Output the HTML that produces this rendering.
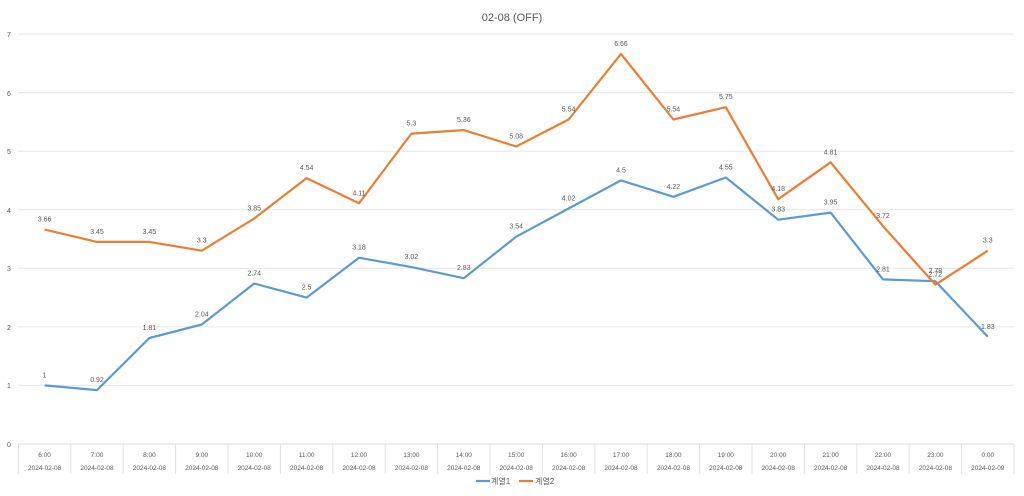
<!DOCTYPE html><html><head><meta charset="utf-8"><style>body{margin:0;background:#fff}svg{display:block}text{font-family:"Liberation Sans","Noto Sans CJK KR",sans-serif;fill:#595959}</style></head><body>
<svg width="1024" height="496" viewBox="0 0 1024 496">
<text x="512" y="21" font-size="11" text-anchor="middle">02-08 (OFF)</text>
<g stroke="#e6e6e6" stroke-width="1">
<line x1="18" y1="385.4" x2="1014" y2="385.4"/><line x1="18" y1="326.9" x2="1014" y2="326.9"/><line x1="18" y1="268.3" x2="1014" y2="268.3"/><line x1="18" y1="209.7" x2="1014" y2="209.7"/><line x1="18" y1="151.2" x2="1014" y2="151.2"/><line x1="18" y1="92.6" x2="1014" y2="92.6"/><line x1="18" y1="34" x2="1014" y2="34"/>
<line x1="18" y1="444" x2="1014" y2="444" stroke="#d9d9d9"/>
</g>
<g stroke="#e0e0e0" id="sep"></g>
<g font-size="7" text-anchor="middle">
<text x="9" y="447">0</text><text x="9" y="388">1</text><text x="9" y="330">2</text><text x="9" y="271">3</text><text x="9" y="213">4</text><text x="9" y="154">5</text><text x="9" y="96">6</text><text x="9" y="37">7</text>
</g>
<g id="cats" font-size="6.5" text-anchor="middle"></g>
<polyline fill="none" stroke="#5b9bd5" stroke-width="2.2" stroke-linejoin="round" points="44.6,385.4 97,390.1 149.4,338 201.8,324.5 254.2,283.5 306.6,297.6 359,257.7 411.4,267.1 463.8,278.2 516.2,236.7 568.6,208.5 621,180.4 673.4,196.8 725.8,177.5 778.2,219.7 830.6,212.6 883,279.4 935.4,281.2 987.8,336.8"/>
<polyline fill="none" stroke="#ed7d31" stroke-width="2.2" stroke-linejoin="round" points="44.6,229.6 97,241.9 149.4,241.9 201.8,250.7 254.2,218.5 306.6,178.1 359,203.3 411.4,133.6 463.8,130.1 516.2,146.5 568.6,119.5 621,53.9 673.4,119.5 725.8,107.2 778.2,199.2 830.6,162.3 883,226.1 935.4,284.7 987.8,250.7"/>
<g id="lbl" font-size="7" text-anchor="middle"></g>
<line x1="476" y1="481" x2="490" y2="481" stroke="#5b9bd5" stroke-width="2.2"/><text x="491" y="484" font-size="8">계열1</text>
<line x1="519" y1="481" x2="533" y2="481" stroke="#ed7d31" stroke-width="2.2"/><text x="535" y="484" font-size="8">계열2</text>
</svg>
<script>
var ns="http://www.w3.org/2000/svg";
function el(p,t,a,txt){var e=document.createElementNS(ns,t);for(var k in a)e.setAttribute(k,a[k]);if(txt!==undefined)e.textContent=txt;document.getElementById(p).appendChild(e);}
var hrs=["6:00","7:00","8:00","9:00","10:00","11:00","12:00","13:00","14:00","15:00","16:00","17:00","18:00","19:00","20:00","21:00","22:00","23:00","0:00"];
var b=[1,0.92,1.81,2.04,2.74,2.5,3.18,3.02,2.83,3.54,4.02,4.5,4.22,4.55,3.83,3.95,2.81,2.78,1.83];
var o=[3.66,3.45,3.45,3.3,3.85,4.54,4.11,5.3,5.36,5.08,5.54,6.66,5.54,5.75,4.18,4.81,3.72,2.72,3.3];
for(var i=0;i<19;i++){var x=44.6+52.4*i;
el("cats","text",{x:x,y:457},hrs[i]);el("cats","text",{x:x,y:470},i==18?"2024-02-09":"2024-02-08");
el("lbl","text",{x:x,y:444-58.57*b[i]-8},String(b[i]));el("lbl","text",{x:x,y:444-58.57*o[i]-8},String(o[i]));}
for(var j=0;j<=19;j++){var sx=18.4+52.4*j;el("sep","line",{x1:sx,y1:444,x2:sx,y2:474});}
</script>
</body></html>
